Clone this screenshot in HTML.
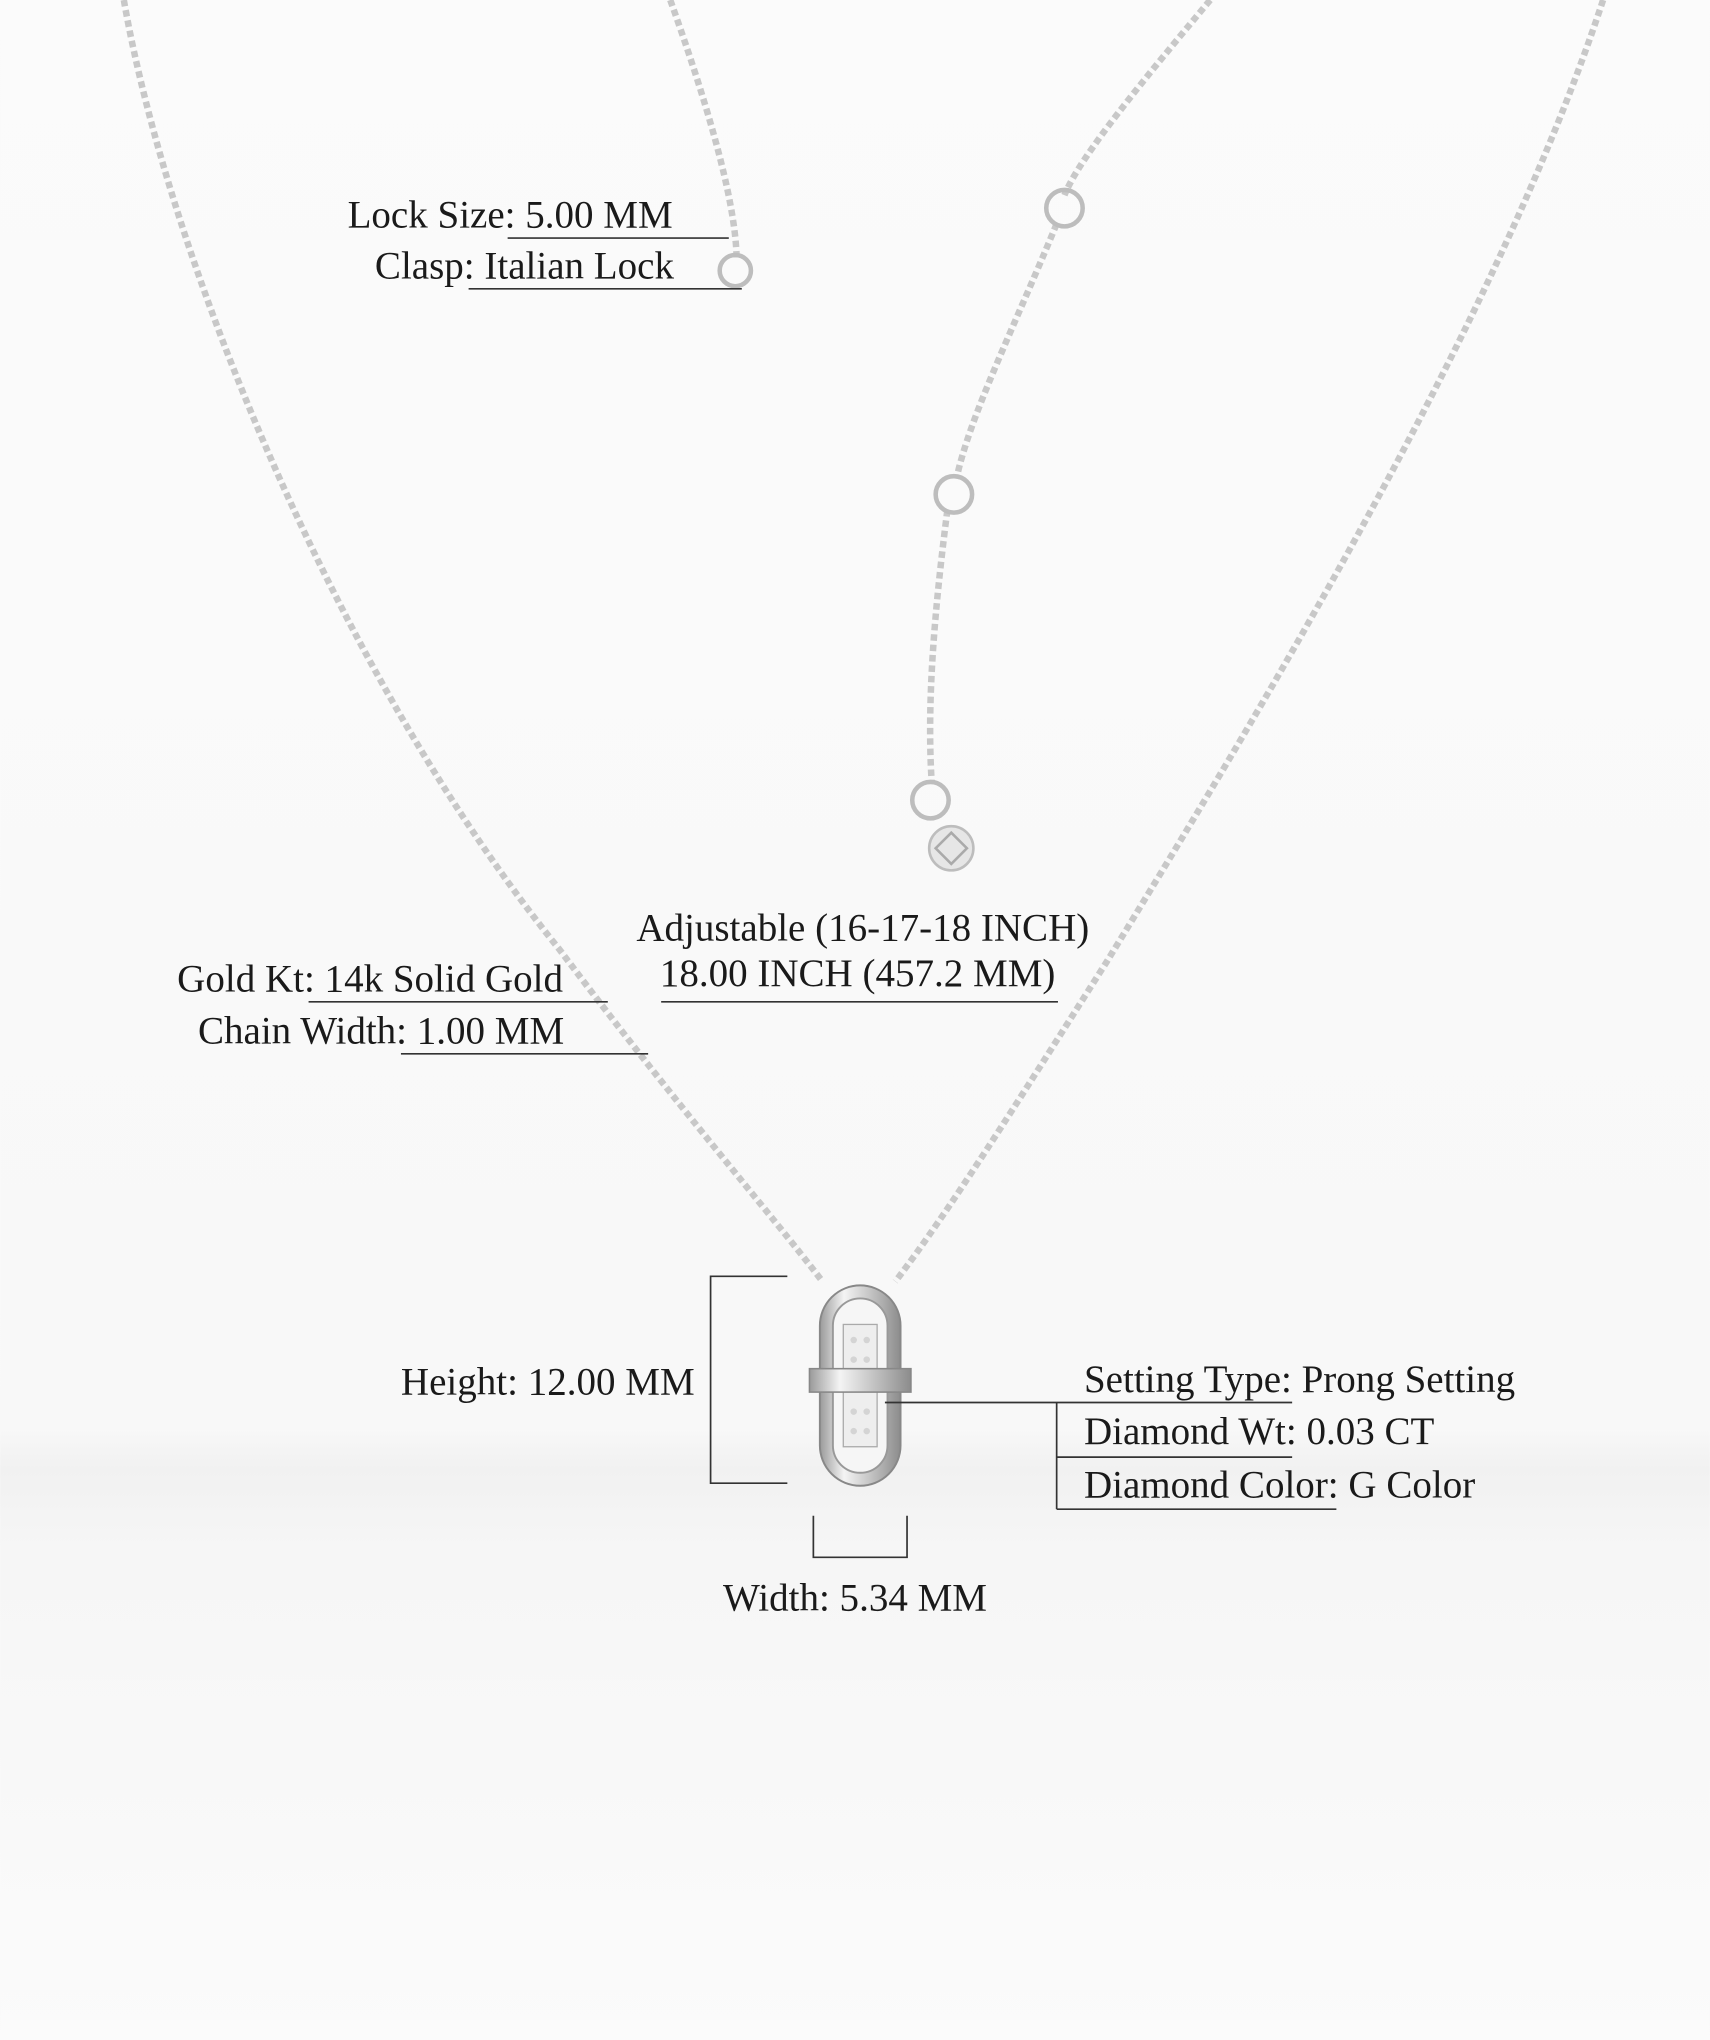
<!DOCTYPE html>
<html><head><meta charset="utf-8"><style>
html,body{margin:0;padding:0;}
body{width:1710px;height:2040px;overflow:hidden;background:#fafafa;}
svg{display:block}
text{font-family:"Liberation Serif",serif;font-size:30px;fill:#1a1a1a;}
</style></head><body>
<svg width="1710" height="2040" viewBox="0 0 1314 1568" xmlns="http://www.w3.org/2000/svg">
<defs>
<linearGradient id="bg" x1="0" y1="0" x2="0" y2="1">
<stop offset="0" stop-color="#fbfbfb"/>
<stop offset="0.70" stop-color="#f8f8f8"/>
<stop offset="0.72" stop-color="#f1f1f1"/>
<stop offset="0.76" stop-color="#f6f6f6"/>
<stop offset="1" stop-color="#fbfbfb"/>
</linearGradient>
<linearGradient id="met" x1="0" y1="0" x2="1" y2="0">
<stop offset="0" stop-color="#9a9a9a"/>
<stop offset="0.3" stop-color="#f4f4f4"/>
<stop offset="0.6" stop-color="#c8c8c8"/>
<stop offset="1" stop-color="#8c8c8c"/>
</linearGradient>
</defs>
<rect width="1314" height="1568" fill="url(#bg)"/>
<g fill="none" stroke="#c8c8c8" stroke-width="5" stroke-dasharray="5 3">
<path d="M95 0 C130 200 260 520 430 730 C520 850 590 930 632 985"/>
<path d="M1232 0 C1150 250 960 560 850 740 C780 850 730 930 688 985"/>
<path d="M515 0 C540 70 565 150 566 198"/>
<path d="M930 0 C880 60 830 120 818 150"/>
<path d="M812 172 C780 250 745 320 735 368"/>
<path d="M728 392 C718 470 712 540 716 602"/>
</g>
<g fill="none" stroke="#bdbdbd" stroke-width="3.5">
<circle cx="818" cy="160" r="14"/>
<circle cx="733" cy="380" r="14"/>
<circle cx="715" cy="615" r="14"/>
<circle cx="565" cy="208" r="12"/>
</g>
<circle cx="731" cy="652" r="17" fill="#e6e6e6" stroke="#bdbdbd" stroke-width="2"/>
<path d="M731 640 L743 652 L731 664 L719 652Z" fill="none" stroke="#aaa" stroke-width="2"/>
<rect x="630" y="988" width="62" height="154" rx="31" fill="url(#met)" stroke="#888" stroke-width="1.5"/>
<rect x="640" y="998" width="42" height="134" rx="21" fill="#f6f6f6" stroke="#999" stroke-width="1.5"/>
<rect x="648" y="1018" width="26" height="94" fill="#eee" stroke="#aaa" stroke-width="1"/>
<g fill="#d4d4d4"><circle cx="656" cy="1030" r="2.5"/><circle cx="666" cy="1030" r="2.5"/><circle cx="656" cy="1045" r="2.5"/><circle cx="666" cy="1045" r="2.5"/><circle cx="656" cy="1085" r="2.5"/><circle cx="666" cy="1085" r="2.5"/><circle cx="656" cy="1100" r="2.5"/><circle cx="666" cy="1100" r="2.5"/></g>
<rect x="622" y="1052" width="78" height="18" fill="url(#met)" stroke="#888" stroke-width="1.2"/>
<g stroke="#333" stroke-width="1.3" fill="none">
<path d="M390 183H560M360 222H570"/>
<path d="M508 770H813"/>
<path d="M237 770H467M308 810H498"/>
<path d="M605 981H546V1140H605"/>
<path d="M625 1165V1197H697V1165"/>
<path d="M680 1078H993M812 1078V1160M812 1120H993M812 1160H1027"/>
</g>
<text x="267" y="175">Lock Size: 5.00 MM</text>
<text x="288" y="214">Clasp: Italian Lock</text>
<text x="663" y="723" text-anchor="middle">Adjustable (16-17-18 INCH)</text>
<text x="659" y="758" text-anchor="middle">18.00 INCH (457.2 MM)</text>
<text x="136" y="762">Gold Kt: 14k Solid Gold</text>
<text x="152" y="802">Chain Width: 1.00 MM</text>
<text x="308" y="1072">Height: 12.00 MM</text>
<text x="657" y="1238" text-anchor="middle">Width: 5.34 MM</text>
<text x="833" y="1070">Setting Type: Prong Setting</text>
<text x="833" y="1110">Diamond Wt: 0.03 CT</text>
<text x="833" y="1151">Diamond Color: G Color</text>
</svg>
</body></html>
